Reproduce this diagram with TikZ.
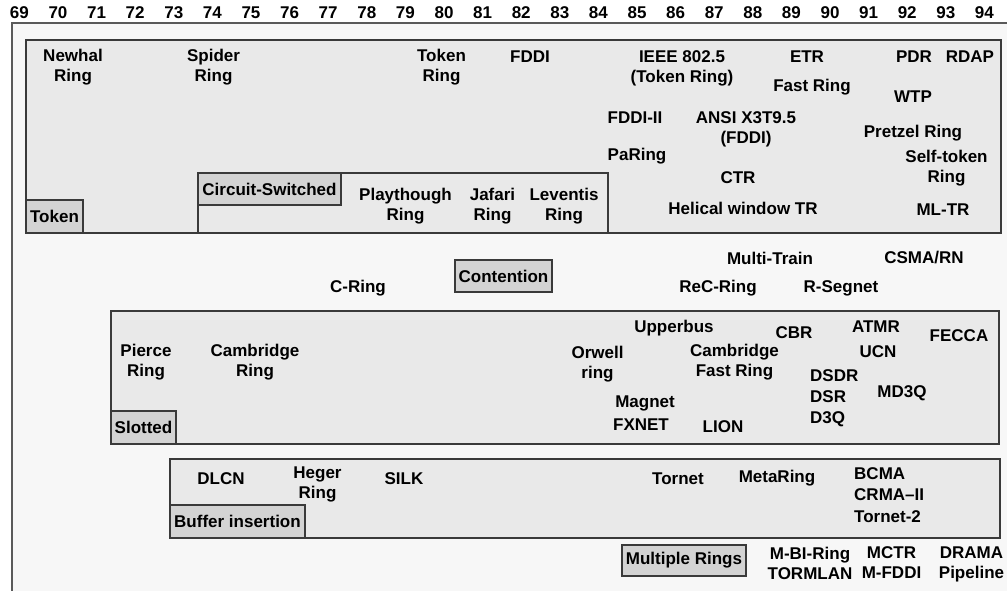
\documentclass[tikz,border=0pt]{standalone}
\usepackage{fontspec}
\setmainfont{Liberation Sans}
\definecolor{framefill}{HTML}{F7F7F7}
\definecolor{boxfill}{HTML}{E9E9E9}
\definecolor{labfill}{HTML}{D3D3D3}
\definecolor{edgecol}{HTML}{3A3A3A}
\definecolor{framecol}{HTML}{5A5A5A}
\begin{document}
\begin{tikzpicture}[x=1pt,y=-1pt,
  txt/.style={font=\fontsize{17}{20}\selectfont\bfseries, align=center, inner sep=0pt, text=black},
  regtxt/.style={font=\fontsize{17}{21.5}\selectfont\bfseries, align=left, inner sep=0pt, anchor=west, text=black},
  stacktxt/.style={font=\fontsize{17}{21}\selectfont\bfseries, align=left, inner sep=0pt, anchor=west, text=black},
  area/.style={draw=edgecol, line width=1.2pt, fill=boxfill, anchor=north west, inner sep=0pt, outer sep=0pt},
  tag/.style={draw=edgecol, line width=1.2pt, fill=labfill, anchor=north west, inner sep=0pt, outer sep=0pt, font=\fontsize{17}{20}\selectfont\bfseries},
  yearlbl/.style={font=\fontsize{17}{20}\selectfont\bfseries, inner sep=0pt}]
\useasboundingbox (0,0) rectangle (1007,590);
\fill[white] (0,0) rectangle (1007,590);
% outer frame
\node[fill=framefill, anchor=north west, inner sep=0pt, outer sep=0pt, minimum width=1000pt, minimum height=570pt] (frame) at (12,23) {};
\draw[framecol, line width=1.2pt] (frame.south west) -- (frame.north west) -- (frame.north east);
% year ticks
\foreach \yr [evaluate=\yr as \xx using {19.4+38.6*(\yr-69)}] in {69,...,94}
  \node[yearlbl] (t\yr) at (\xx,13) {\yr};
% regions
\node[area, minimum width=975pt, minimum height=193pt] (token) at (26,40) {};
\node[area, minimum width=410pt, minimum height=60pt] (circuit) at (198,173) {};
\node[area, minimum width=888pt, minimum height=133pt] (slotted) at (111,311) {};
\node[area, minimum width=830pt, minimum height=79pt] (buffer) at (170,459) {};
% tags
\node[tag, minimum width=57pt, minimum height=33pt] (tokentag) at (26,200) {Token};
\node[tag, minimum width=143pt, minimum height=32pt] (circtag) at (198,173) {Circuit-Switched};
\node[tag, minimum width=97pt, minimum height=32pt] (conttag) at (455,260) {Contention};
\node[tag, minimum width=65pt, minimum height=33pt] (slottag) at (111,411) {Slotted};
\node[tag, minimum width=135pt, minimum height=33pt] (buftag) at (170,505) {Buffer insertion};
\node[tag, minimum width=124pt, minimum height=31pt] (multitag) at (622,545) {Multiple Rings};
% token region
\node[txt] (newhal) at (73,67.5) {Newhal\\Ring};
\node[txt] (spider) at (213.5,67.5) {Spider\\Ring};
\node[txt] (tokring) at (441.5,67.5) {Token\\Ring};
\node[txt] (fddi) at (530,57) {FDDI};
\node[txt] (ieee) at (682,68) {IEEE 802.5\\(Token Ring)};
\node[txt] (etr) at (807,57) {ETR};
\node[txt] (fastring) at (812,87) {Fast Ring};
\node[txt] (pdr) at (914,57) {PDR};
\node[txt] (rdap) at (970,57) {RDAP};
\node[txt] (wtp) at (913,97) {WTP};
\node[txt] (fddiii) at (635,118) {FDDI-II};
\node[txt] (ansi) at (746,129) {ANSI X3T9.5\\(FDDI)};
\node[txt] (pretzel) at (913,133) {Pretzel Ring};
\node[txt] (paring) at (637,156) {PaRing};
\node[txt] (selftoken) at (946.5,168.5) {Self-token\\Ring};
\node[txt] (ctr) at (738,178) {CTR};
\node[txt] (helical) at (743,208) {Helical window TR};
\node[txt] (mltr) at (943,210) {ML-TR};
\node[txt] (playthough) at (405.5,206.5) {Playthough\\Ring};
\node[txt] (jafari) at (492.5,206.5) {Jafari\\Ring};
\node[txt] (leventis) at (564,206.5) {Leventis\\Ring};
% contention
\node[txt] (cring) at (358,288) {C-Ring};
\node[txt] (multitrain) at (770,258) {Multi-Train};
\node[txt] (csmarn) at (924,258) {CSMA/RN};
\node[txt] (recring) at (718,288) {ReC-Ring};
\node[txt] (rsegnet) at (841,288) {R-Segnet};
% slotted
\node[txt] (pierce) at (146,362.5) {Pierce\\Ring};
\node[txt] (cambridge) at (255,362.5) {Cambridge\\Ring};
\node[txt] (orwell) at (597.5,364.5) {Orwell\\ring};
\node[txt] (upperbus) at (674,328) {Upperbus};
\node[txt] (cbr) at (794,333) {CBR};
\node[txt] (atmr) at (876,327) {ATMR};
\node[txt] (fecca) at (959,336) {FECCA};
\node[txt] (cfr) at (734.5,362) {Cambridge\\Fast Ring};
\node[txt] (ucn) at (878,352) {UCN};
\node[stacktxt] (dsdr) at (810,398) {DSDR\\DSR\\D3Q};
\node[txt] (md3q) at (902,393) {MD3Q};
\node[txt] (magnet) at (645,403) {Magnet};
\node[txt] (fxnet) at (641,425) {FXNET};
\node[txt] (lion) at (723,427) {LION};
% buffer insertion
\node[txt] (dlcn) at (221,479) {DLCN};
\node[txt] (heger) at (317.5,484.5) {Heger\\Ring};
\node[txt] (silk) at (404,479) {SILK};
\node[txt] (tornet) at (678,479) {Tornet};
\node[txt] (metaring) at (777,478) {MetaRing};
\node[regtxt] (bcma) at (854,495) {BCMA\\CRMA–II\\Tornet-2};
% multiple rings
\node[txt] (mbiring) at (810,563.5) {M-BI-Ring\\TORMLAN};
\node[txt] (mctr) at (891.5,563) {MCTR\\M-FDDI};
\node[txt] (drama) at (971.5,564.5) {DRAMA\\Pipeline};
\end{tikzpicture}
\end{document}
